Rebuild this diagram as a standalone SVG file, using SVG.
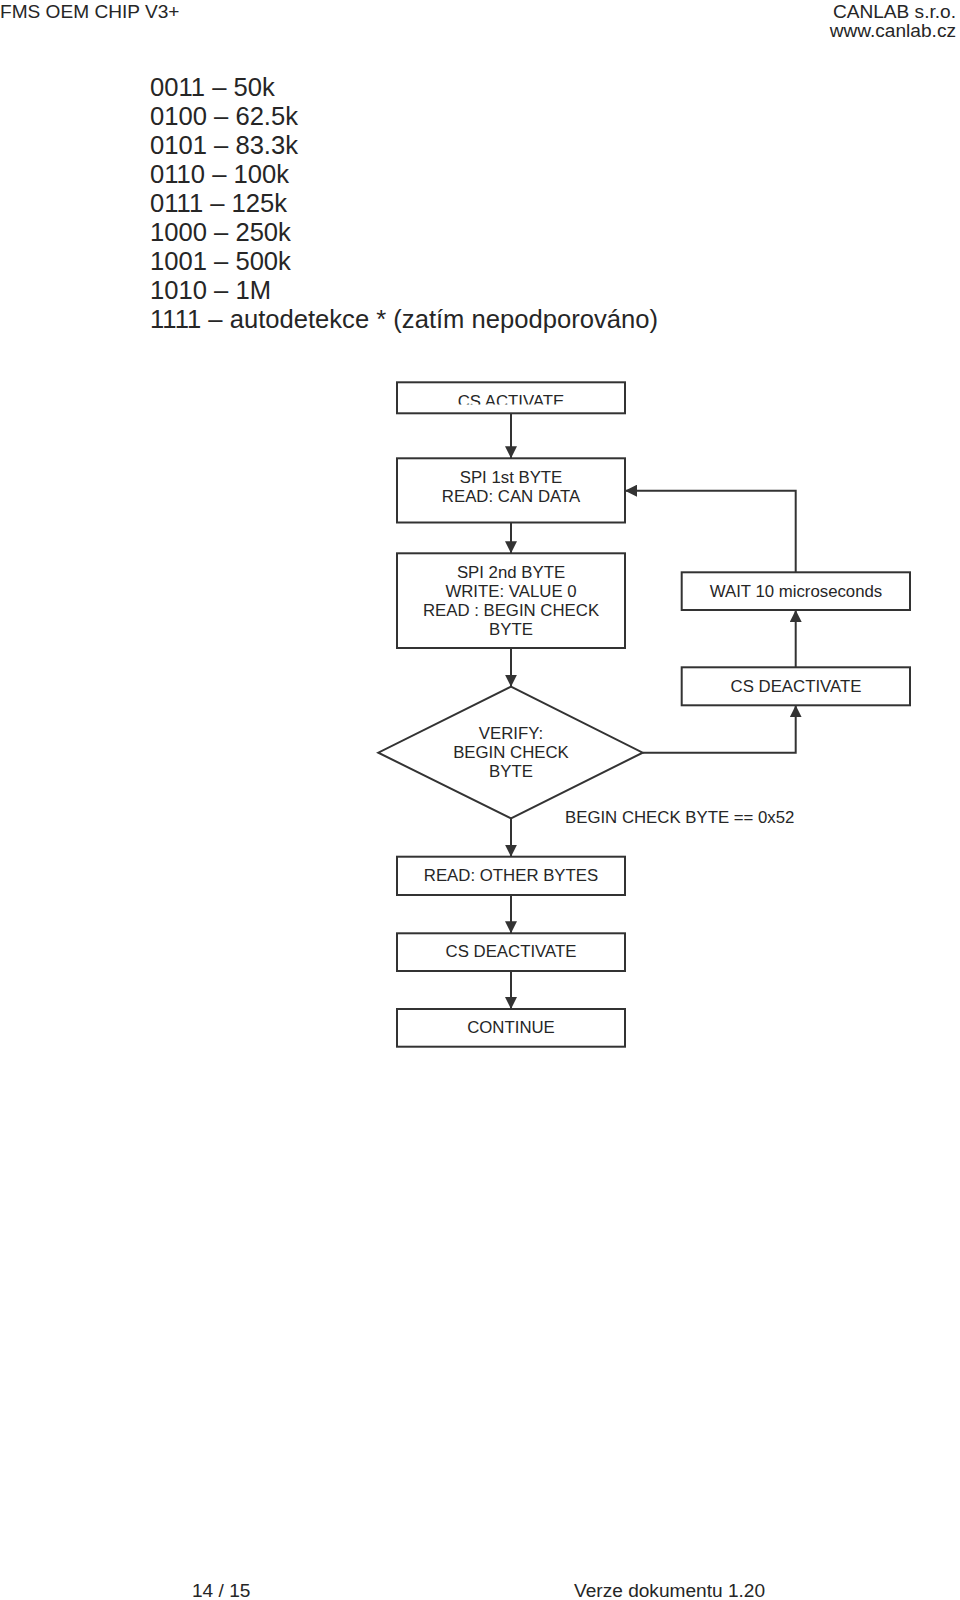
<svg xmlns="http://www.w3.org/2000/svg" width="960" height="1600" viewBox="0 0 960 1600">
<style>
text{font-family:"Liberation Sans",Arial,sans-serif;fill:#262626}
.hd{font-size:19.1px}
.ls{font-size:25.6px}
.bx{font-size:16.8px;text-anchor:middle}
.lb{font-size:16.8px}
.nd{fill:#fff;stroke:#333;stroke-width:2}
.cn{fill:none;stroke:#333;stroke-width:2}
</style>
<defs>
<marker id="ah" viewBox="0 0 12 12" refX="12" refY="6" markerWidth="12" markerHeight="12" markerUnits="userSpaceOnUse" orient="auto">
<path d="M0,0 L12,6 L0,12 z" fill="#333"/>
</marker>
<clipPath id="clipAct"><rect x="397" y="383" width="228" height="21.5"/></clipPath>
</defs>
<rect width="960" height="1600" fill="#fff"/>
<g id="header">
<text class="hd" x="0" y="17.5">FMS OEM CHIP V3+</text>
<text class="hd" x="956" y="17.5" text-anchor="end">CANLAB s.r.o.</text>
<text class="hd" x="956" y="37.2" text-anchor="end">www.canlab.cz</text>
</g>
<g id="list">
<text class="ls" x="150" y="95.6">0011 – 50k</text>
<text class="ls" x="150" y="124.7">0100 – 62.5k</text>
<text class="ls" x="150" y="153.8">0101 – 83.3k</text>
<text class="ls" x="150" y="182.9">0110 – 100k</text>
<text class="ls" x="150" y="212">0111 – 125k</text>
<text class="ls" x="150" y="241.1">1000 – 250k</text>
<text class="ls" x="150" y="270.2">1001 – 500k</text>
<text class="ls" x="150" y="299.3">1010 – 1M</text>
<text class="ls" x="150" y="328.4">1111 – autodetekce * (zatím nepodporováno)</text>
</g>
<g id="connectors">
<path class="cn" d="M511,413.3 V458.3" marker-end="url(#ah)"/>
<path class="cn" d="M511,522.5 V553.3" marker-end="url(#ah)"/>
<path class="cn" d="M511,648 V686.7" marker-end="url(#ah)"/>
<path class="cn" d="M511,818.3 V856.7" marker-end="url(#ah)"/>
<path class="cn" d="M511,895 V933.3" marker-end="url(#ah)"/>
<path class="cn" d="M511,971 V1009" marker-end="url(#ah)"/>
<path class="cn" d="M642.7,752.7 H795.7 V705.3" marker-end="url(#ah)"/>
<path class="cn" d="M795.7,667.3 V610" marker-end="url(#ah)"/>
<path class="cn" d="M795.7,572.3 V490.7 H625" marker-end="url(#ah)"/>
</g>
<g id="cs-activate">
<rect class="nd" x="397" y="382.3" width="228" height="31"/>
<text class="bx" x="511" y="406.5" clip-path="url(#clipAct)">CS ACTIVATE</text>
</g>
<g id="spi-1st">
<rect class="nd" x="397" y="458.3" width="228" height="64.2"/>
<text class="bx" x="511" y="483.3">SPI 1st BYTE</text>
<text class="bx" x="511" y="501.9">READ: CAN DATA</text>
</g>
<g id="spi-2nd">
<rect class="nd" x="397" y="553.3" width="228" height="94.7"/>
<text class="bx" x="511" y="578.3">SPI 2nd BYTE</text>
<text class="bx" x="511" y="597.3">WRITE: VALUE 0</text>
<text class="bx" x="511" y="616.1">READ : BEGIN CHECK</text>
<text class="bx" x="511" y="635">BYTE</text>
</g>
<g id="wait">
<rect class="nd" x="681.7" y="572.3" width="228.3" height="37.7"/>
<text class="bx" x="796" y="596.7">WAIT 10 microseconds</text>
</g>
<g id="cs-deactivate-retry">
<rect class="nd" x="681.7" y="667.3" width="228.3" height="38"/>
<text class="bx" x="796" y="691.7">CS DEACTIVATE</text>
</g>
<g id="verify">
<polygon class="nd" points="511,686.7 642.7,752.7 511,818.3 378.3,752.7"/>
<text class="bx" x="511" y="739.3">VERIFY:</text>
<text class="bx" x="511" y="758.3">BEGIN CHECK</text>
<text class="bx" x="511" y="777.3">BYTE</text>
</g>
<g id="condition-label">
<text class="lb" x="565" y="822.7">BEGIN CHECK BYTE == 0x52</text>
</g>
<g id="read-other">
<rect class="nd" x="397" y="856.7" width="228" height="38.3"/>
<text class="bx" x="511" y="880.7">READ: OTHER BYTES</text>
</g>
<g id="cs-deactivate">
<rect class="nd" x="397" y="933.3" width="228" height="37.7"/>
<text class="bx" x="511" y="957.3">CS DEACTIVATE</text>
</g>
<g id="continue">
<rect class="nd" x="397" y="1009" width="228" height="37.7"/>
<text class="bx" x="511" y="1033.3">CONTINUE</text>
</g>
<g id="footer">
<text class="hd" x="192" y="1597">14 / 15</text>
<text class="hd" x="574" y="1597">Verze dokumentu 1.20</text>
</g>
</svg>
